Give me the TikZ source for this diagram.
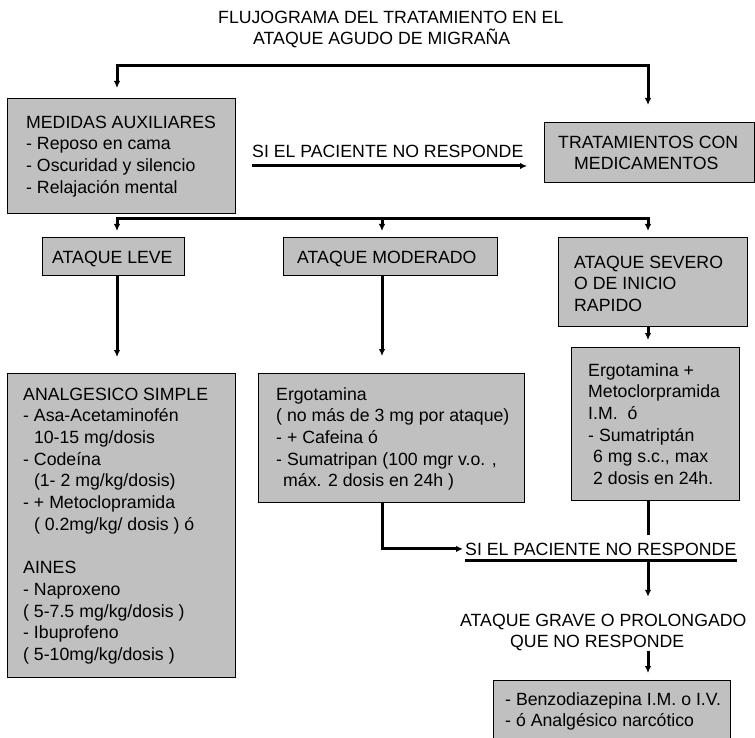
\documentclass[tikz,border=0pt]{standalone}
\usepackage{fontspec}
\setmainfont{Liberation Sans}
\usetikzlibrary{arrows.meta}
\definecolor{boxgray}{RGB}{192,192,192}
\newcommand{\mainfnt}{\fontsize{17.7}{21.7}\selectfont}
\newcommand{\ind}{\hspace*{10.8pt}}
\tikzset{
  box/.style={draw=black, line width=1.4pt, fill=boxgray, rectangle, anchor=north west, inner sep=0pt},
  txt/.style={anchor=north west, inner sep=0pt, align=left, font=\mainfnt},
  lbl/.style={anchor=base west, inner sep=0pt, font=\mainfnt},
  conn/.style={line width=3pt, line join=miter},
  tip/.tip={Latex[length=7pt,width=6.5pt]}
}
\begin{document}
\begin{tikzpicture}[x=1pt,y=-1pt]
\useasboundingbox (0,0) rectangle (755,738);
\clip (0,0) rectangle (755,738);

% title
\node[lbl] (title1) at (218,24) {FLUJOGRAMA DEL TRATAMIENTO EN EL};
\node[lbl] (title2) at (253,45) {ATAQUE AGUDO DE MIGRAÑA};

% boxes
\node[box, minimum width=228pt, minimum height=115pt] (med) at (7,98) {};
\node[txt] (medT) at (26,112.8) {\strut MEDIDAS AUXILIARES\\- Reposo en cama\\- Oscuridad y silencio\\- Relajación mental};

\node[box, minimum width=209.5pt, minimum height=60pt] (trat) at (544,122) {};
\node[txt] (tratT) at (558,132.8) {\strut TRATAMIENTOS CON\\\hspace*{16pt}MEDICAMENTOS};

\node[lbl] (si1) at (252,158) {SI EL PACIENTE NO RESPONDE};

\node[box, minimum width=142pt, minimum height=38pt] (leve) at (42,237) {};
\node[lbl] (leveT) at (52,263) {ATAQUE LEVE};

\node[box, minimum width=214pt, minimum height=38pt] (mod) at (283,237) {};
\node[lbl] (modT) at (297,263) {ATAQUE MODERADO};

\node[box, minimum width=189pt, minimum height=89pt] (sev) at (558,237) {};
\node[txt] (sevT) at (574,252.8) {\strut ATAQUE SEVERO\\O DE INICIO\\RAPIDO};

\node[box, minimum width=228pt, minimum height=304pt] (analg) at (7,373) {};
\node[txt] (analgT) at (23,384.8) {\strut ANALGESICO SIMPLE\\- Asa-Acetaminofén\\\ind 10-15 mg/dosis\\- Codeína\\\ind(1- 2 mg/kg/dosis)\\- + Metoclopramida\\\ind( 0.2mg/kg/ dosis ) ó\\[21.7pt]AINES\\- Naproxeno\\( 5-7.5 mg/kg/dosis )\\- Ibuprofeno\\( 5-10mg/kg/dosis )};

\node[box, minimum width=266pt, minimum height=129pt] (erg) at (258,373) {};
\node[txt] (ergT) at (276,384.8) {\strut Ergotamina\\( no más de 3 mg por ataque)\\- + Cafeina ó\\- Sumatripan (100 mgr v.o. ,\\\hspace*{7pt}máx. 2 dosis en 24h )};

\node[box, minimum width=168pt, minimum height=153pt] (erg2) at (571,347) {};
\node[txt] (erg2T) at (588,360.8) {\strut Ergotamina +\\Metoclorpramida\\I.M.\ \ ó\\- Sumatriptán\\\hspace*{5pt}6 mg s.c., max\\\hspace*{5pt}2 dosis en 24h.};

\node[lbl] (si2) at (465,555) {SI EL PACIENTE NO RESPONDE};

\node[txt] (grave) at (460,610.8) {\strut ATAQUE GRAVE O PROLONGADO\\\hspace*{50pt}QUE NO RESPONDE};

\node[box, minimum width=237pt, minimum height=80pt] (fin) at (493,680) {};
\node[txt] (finT) at (505,689.8) {\strut - Benzodiazepina I.M. o I.V.\\- ó Analgésico narcótico};

% coordinates
\coordinate (ja) at (117,66);
\coordinate (jb) at (648,66);
\coordinate (ba) at (117,219);
\coordinate (bb) at (648,219);
\coordinate (bc) at (382,219);
\coordinate (u1) at (252,166);
\coordinate (u2) at (465,560);

% connectors
\draw[conn, tip-tip, shorten <=10pt, shorten >=17pt] (ja |- med.north) -- (ja) -- (jb) -- (jb |- trat.north);
\draw[conn, -tip, shorten >=17pt] (u1) -- (u1 -| trat.west);
\draw[conn, tip-tip, shorten <=6pt, shorten >=6pt] (ba |- leve.north) -- (ba) -- (bb) -- (bb |- sev.north);
\draw[conn, -tip, shorten >=6pt] (bc) -- (bc |- mod.north);
\draw[conn, -tip, shorten >=16pt] (ba |- leve.south) -- (ba |- analg.north);
\draw[conn, -tip, shorten >=17pt] (bc |- mod.south) -- (bc |- erg.north);
\draw[conn, -tip, shorten >=7pt] (bb |- sev.south) -- (bb |- erg2.north);
\draw[conn, -tip, shorten >=2pt] (bc |- erg.south) |- (si2.west);
\draw[conn] (bb |- erg2.south) -- ([yshift=7pt]bb |- si2.north);
\draw[conn] (u2) -- (u2 -| si2.east);
\draw[conn, -tip, shorten >=14pt] (u2 -| bb) -- (bb |- grave.north);
\draw[conn, -tip, shorten >=7pt] (bb |- grave.south) -- (bb |- fin.north);
\end{tikzpicture}
\end{document}
